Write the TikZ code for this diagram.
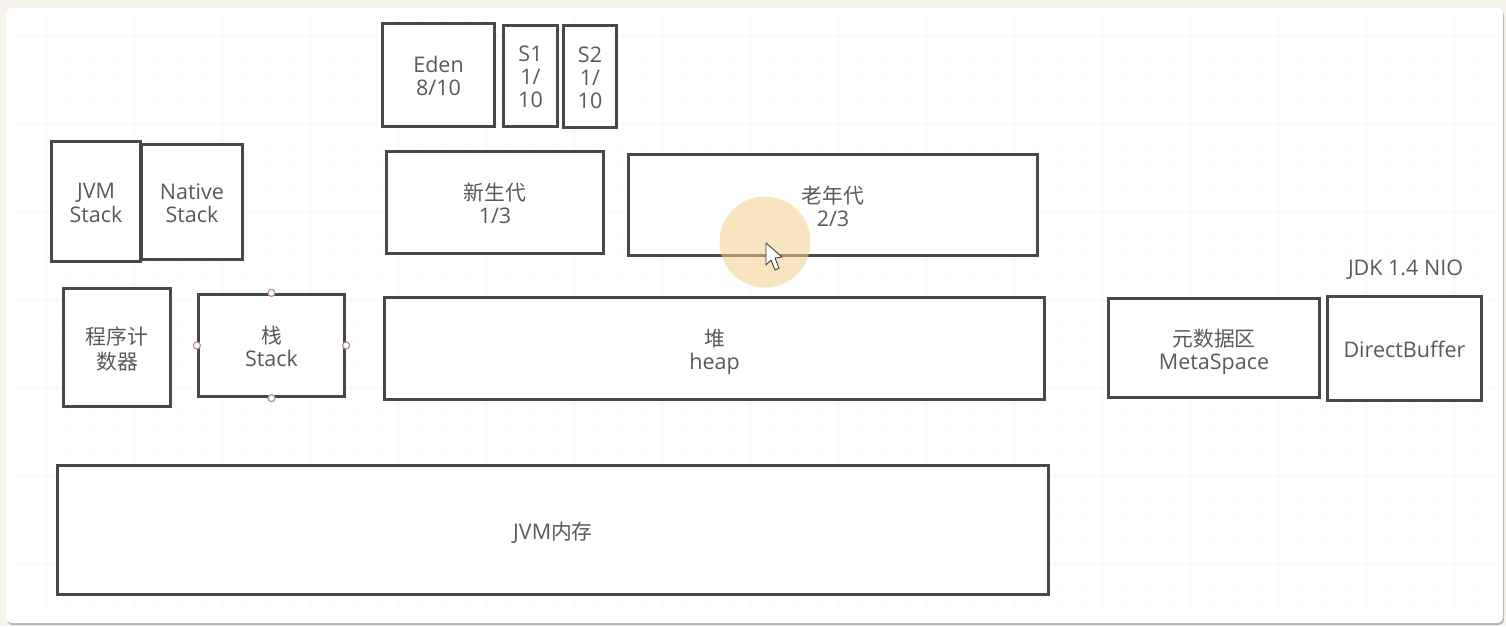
\documentclass[tikz,border=0pt]{standalone}
\usepackage{fontspec}
\setmainfont{Open Sans}
\newfontfamily\cjk{Noto Sans CJK SC}
\usetikzlibrary{calc}
\definecolor{pagebg}{HTML}{F7F4ED}
\definecolor{shadowc}{HTML}{B4B4AE}
\definecolor{gridminor}{HTML}{FBFBFB}
\definecolor{gridmajor}{HTML}{F5F5F5}
\definecolor{linec}{HTML}{484848}
\definecolor{textc}{HTML}{5A5A5A}
\definecolor{halo}{HTML}{F5CF8E}
\definecolor{handlec}{HTML}{B58A98}
\tikzset{
  box/.style={draw=linec,line width=2.7pt,fill=white,inner sep=0pt,align=center,
    text=textc,font=\fontsize{21.5}{23}\selectfont},
  freelabel/.style={inner sep=0pt,align=center,text=textc,font=\fontsize{21.5}{23}\selectfont},
  handle/.style={circle,draw=handlec,line width=1.2pt,fill=white,minimum size=7pt,inner sep=0pt},
}
\newcommand{\zh}[1]{{\cjk\fontsize{20.8}{23}\selectfont #1}}
\newcommand{\mybox}[6]{% name, x0, y0, x1, y1, text
  \node[box,minimum width=#4pt-#2pt-0.5pt,minimum height=#5pt-#3pt-0.5pt] (#1)
    at ({(#2+#4)/2},{(#3+#5)/2})
    {\raisebox{-9.5pt}[0pt][0pt]{\begin{tabular}{@{}c@{}}#6\end{tabular}}};}
\setlength{\tabcolsep}{0pt}
\setlength{\baselineskip}{23pt}
\begin{document}
\begin{tikzpicture}[x=1pt,y=-1pt]
\useasboundingbox (0,0) rectangle (1506,626);
\fill[pagebg] (0,0) rectangle (1506,626);
\fill[shadowc,rounded corners=6pt] (7,10) rectangle (1504,625);
\fill[white,rounded corners=6pt] (6,8) rectangle (1503,623);
% grid
\foreach \x in {46,68,...,1490} \draw[gridminor,line width=0.8pt] (\x,16) -- (\x,612);
\foreach \y in {35,57,...,610} \draw[gridminor,line width=0.8pt] (14,\y) -- (1496,\y);
\foreach \x in {46,134,...,1490} \draw[gridmajor,line width=0.8pt] (\x,16) -- (\x,612);
\foreach \y in {35,123,...,610} \draw[gridmajor,line width=0.8pt] (14,\y) -- (1496,\y);
% boxes
\mybox{eden}{382}{23}{495}{127}{Eden\\8/10}
\mybox{sa}{503}{25}{558}{127}{S1\\1/\\10}
\mybox{sb}{563}{25}{617}{128}{S2\\1/\\10}
\mybox{native}{141}{144}{243}{260}{Native\\Stack}
\mybox{jvmstack}{51}{141}{141}{262}{JVM\\Stack}
\mybox{young}{386}{151}{604}{254}{\zh{新生代}\\1/3}
\mybox{old}{628}{154}{1038}{256}{\zh{老年代}\\2/3}
\mybox{pc}{63}{288}{171}{407}{\zh{程序计}\\\zh{数器}}
\mybox{stack}{198}{294}{345}{397}{\zh{栈}\\Stack}
\mybox{heap}{384}{297}{1045}{400}{\zh{堆}\\heap}
\mybox{meta}{1108}{298}{1320}{398}{\zh{元数据区}\\MetaSpace}
\mybox{direct}{1327}{296}{1482}{401}{DirectBuffer}
\mybox{jvmmem}{57}{465}{1049}{595}{JVM\zh{内存}}
\node[freelabel] (nio) at (1405.5,270) {JDK 1.4 NIO};
% selection handles
\node[handle] (hn) at (stack.north) {};
\node[handle] (hs) at (stack.south) {};
\node[handle] (hw) at (stack.west) {};
\node[handle] (he) at (stack.east) {};
% pointer highlight and cursor
\fill[halo,opacity=0.55] (765,242) circle (45.5);
\draw[black!75,line width=0.9pt,fill=white,line join=round]
  (766,243) -- (766,265) -- (771,260) -- (775,270) -- (779,268) -- (775,258) -- (782,257) -- cycle;
\end{tikzpicture}
\end{document}
